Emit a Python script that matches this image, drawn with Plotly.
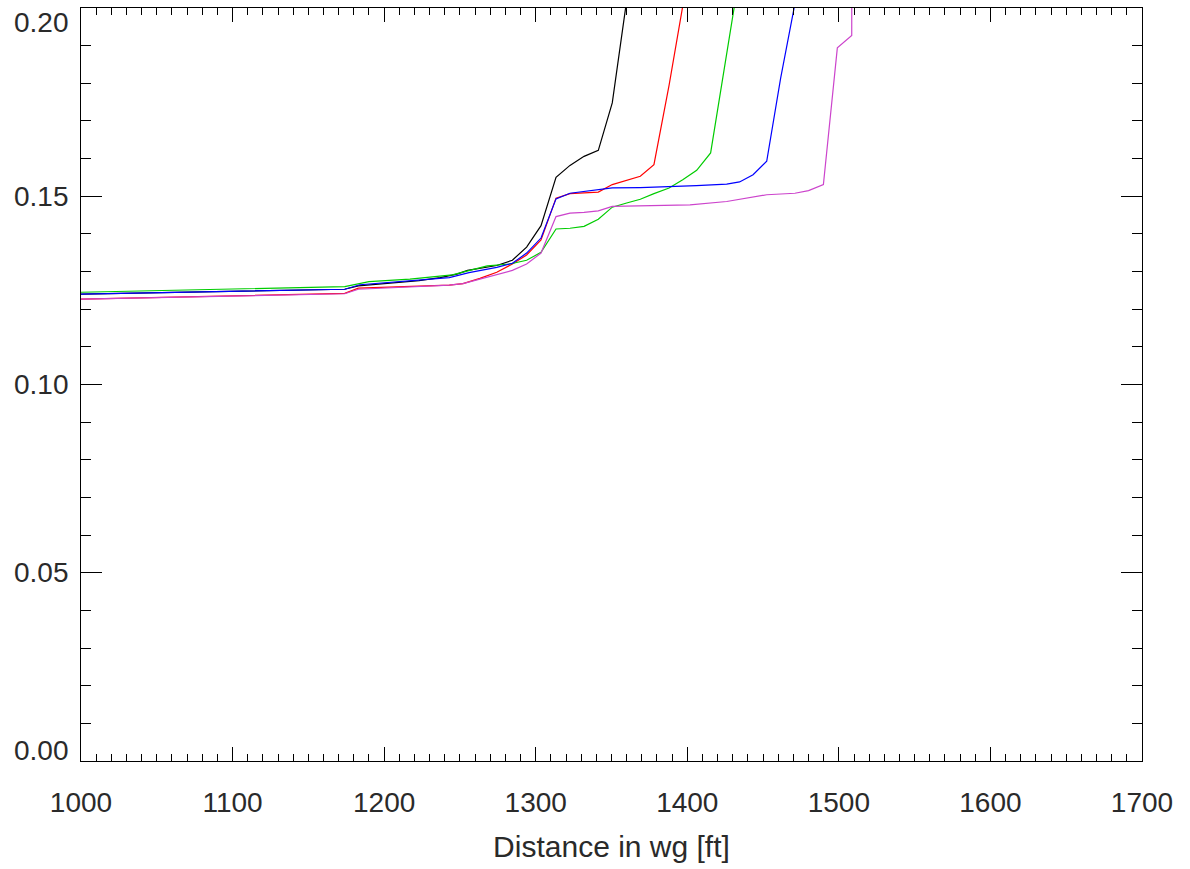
import plotly.graph_objects as go

# Series: distance along the waveguide [ft] and the plotted quantity
x_black = [1000, 1174, 1183, 1203, 1223, 1237, 1248, 1255, 1263.2, 1274.3, 1284.6, 1294, 1303.5,
           1313.4, 1322.6, 1331.9, 1341.3, 1350.5, 1360, 1369]
y_black = [0.1240, 0.1253, 0.1262, 0.1268, 0.1276, 0.1284, 0.1293, 0.1303, 0.1309, 0.1316, 0.1330,
           0.1365, 0.1422, 0.1550, 0.1582, 0.1606, 0.1622, 0.1748, 0.2020, 0.2400]

x_red = [1000, 1174, 1183, 1203, 1223, 1243, 1252, 1263.2, 1274.3, 1284.6, 1294, 1303.5, 1313.4,
         1322.6, 1331.9, 1341.3, 1350.5, 1360, 1369, 1378, 1388, 1397, 1406]
y_red = [0.1227, 0.1242, 0.1256, 0.1258, 0.1260, 0.1264, 0.1268, 0.1282, 0.1298, 0.1320, 0.1344,
         0.1384, 0.1495, 0.1507, 0.1509, 0.1511, 0.1531, 0.1542, 0.1553, 0.1584, 0.1795, 0.2005, 0.2220]

x_green = [1000, 1144, 1174, 1190, 1217, 1245, 1256, 1268, 1283, 1294, 1303.5, 1313.4, 1322.6,
           1331.9, 1341.3, 1350.5, 1360, 1369, 1378, 1388, 1397, 1406.2, 1415.4, 1425, 1434.5]
y_green = [0.1245, 0.1256, 0.1260, 0.1273, 0.1280, 0.1291, 0.1303, 0.1315, 0.1320, 0.1330, 0.1351,
           0.1413, 0.1415, 0.1420, 0.1439, 0.1471, 0.1482, 0.1492, 0.1507, 0.1522, 0.1544, 0.1569,
           0.1615, 0.1855, 0.2090]

x_blue = [1000, 1174, 1184, 1203, 1223, 1243, 1256, 1268, 1274.3, 1284.6, 1294, 1303.5, 1313.4,
          1322.6, 1331.9, 1341.3, 1350.5, 1369, 1388, 1406, 1426, 1434.5, 1443.4, 1452.4, 1461.6,
          1471, 1480]
y_blue = [0.1240, 0.1253, 0.1265, 0.1271, 0.1277, 0.1284, 0.1297, 0.1306, 0.1311, 0.1322, 0.1349,
          0.1389, 0.1493, 0.1508, 0.1512, 0.1517, 0.1522, 0.1523, 0.1525, 0.1528, 0.1532, 0.1538,
          0.1557, 0.1593, 0.1814, 0.2005, 0.2200]

x_magenta = [1000, 1174, 1183, 1203, 1223, 1243, 1252, 1263.2, 1274.3, 1284.6, 1294, 1303.5,
             1313.4, 1322.6, 1331.9, 1341.3, 1350.5, 1369, 1401.8, 1426, 1443.4, 1452.4, 1471,
             1480, 1489.8, 1499, 1508.5, 1508.6]
y_magenta = [0.1227, 0.1241, 0.1253, 0.1257, 0.1260, 0.1264, 0.1268, 0.1280, 0.1291, 0.1303,
             0.1320, 0.1349, 0.1446, 0.1455, 0.1457, 0.1461, 0.1473, 0.1475, 0.1477, 0.1486,
             0.1498, 0.1504, 0.1508, 0.1515, 0.1531, 0.1894, 0.1927, 0.2500]

y_tick_vals = [0.00, 0.05, 0.10, 0.15, 0.20]
y_tick_text = ["0.00", "0.05", "0.10", "0.15", "0.20"]
x_title = "Distance in wg [ft]"

FONT = "Liberation Sans, Arial, Helvetica, sans-serif"
TXT = "#2a2a2a"

series = [
    (x_black, y_black, "#000000"),
    (x_red, y_red, "#ff0000"),
    (x_green, y_green, "#00cc00"),
    (x_blue, y_blue, "#0000ff"),
    (x_magenta, y_magenta, "#cc44cc"),
]

fig = go.Figure()
for xs, ys, col in series:
    fig.add_trace(go.Scatter(x=xs, y=ys, mode="lines",
                             line=dict(color=col, width=1.2), showlegend=False,
                             hoverinfo="skip"))

fig.update_layout(
    width=1190, height=869,
    margin=dict(l=81, r=48, t=8, b=108),
    paper_bgcolor="white", plot_bgcolor="white",
    font=dict(family=FONT, size=28, color=TXT),
)

fig.update_xaxes(
    range=[1000, 1700], showgrid=False, zeroline=False,
    showline=True, linecolor="black", linewidth=1, mirror="ticks",
    ticks="inside", ticklen=14, tickcolor="black", tickwidth=1,
    tickmode="linear", tick0=1000, dtick=100,
    minor=dict(ticks="inside", ticklen=7, dtick=10, tickcolor="black", tickwidth=1),
    tickfont=dict(family=FONT, size=28, color=TXT),
    ticklabelstandoff=16,
    title=dict(text=x_title, font=dict(family=FONT, size=30, color=TXT), standoff=19),
)

fig.update_yaxes(
    range=[0, 0.2], showgrid=False, zeroline=False,
    showline=True, linecolor="black", linewidth=1, mirror="ticks",
    ticks="inside", ticklen=21, tickcolor="black", tickwidth=1,
    tickmode="array", tickvals=y_tick_vals, showticklabels=False,
    minor=dict(ticks="inside", ticklen=10, dtick=0.01, tickcolor="black", tickwidth=1),
)

# y tick labels; the end labels sit inside the axis span
shifts = {0.00: 11, 0.20: -14}
for v, t in zip(y_tick_vals, y_tick_text):
    fig.add_annotation(x=0, xref="paper", y=v, yref="y", text=t, showarrow=False,
                       xanchor="right", yanchor="middle", xshift=-10,
                       yshift=shifts.get(v, 0),
                       font=dict(family=FONT, size=28, color=TXT))

fig.write_html("out.html")
